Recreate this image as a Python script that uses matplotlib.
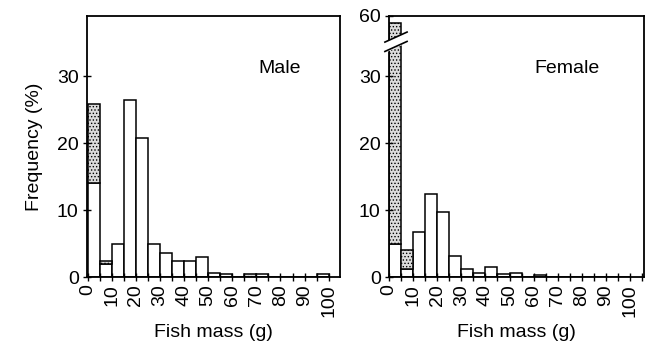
import matplotlib.pyplot as plt
import numpy as np

plt.rcParams['font.family'] = ['Liberation Sans', 'DejaVu Sans']
plt.rcParams['hatch.linewidth'] = 0.6

# 5 g bins, left edges 0..95
bin_left = np.arange(0, 100, 5)

# open part / stippled part of each bar (%)
male_open = [14.0, 1.9, 5.0, 26.4, 20.8, 5.0, 3.6, 2.4, 2.4, 3.0,
             0.6, 0.5, 0, 0, 0.4, 0, 0, 0, 0, 0.5]
male_dot = [11.8, 0.5, 0, 0, 0, 0, 0, 0, 0, 0,
            0, 0, 0, 0.5, 0, 0, 0, 0, 0, 0]
female_open = [4.9, 1.2, 6.7, 12.4, 9.7, 3.15, 1.15, 0.65, 1.55, 0.4,
               0.65, 0, 0.25, 0, 0, 0, 0, 0, 0, 0]
female_dot = [54.1, 2.9, 0, 0, 0, 0, 0, 0, 0, 0,
              0, 0, 0, 0, 0, 0, 0, 0, 0, 0]

xticks = list(range(0, 101, 10))

# broken y axis for female: 35..56 removed
brk_lo, brk_hi = 35, 56


def squash(v):
    v = np.asarray(v, dtype=float)
    return np.where(v > brk_hi, v - (brk_hi - brk_lo), np.minimum(v, brk_lo + 0.5))


fig = plt.figure(figsize=(6.53, 3.52), dpi=100)
ax1 = fig.add_axes([87 / 653, 75 / 352, 253 / 653, 261 / 352])
ax2 = fig.add_axes([389 / 653, 75 / 352, 255 / 653, 261 / 352])


def draw(ax, op, dot, label, lx, broken=False):
    op = np.array(op)
    dot = np.array(dot)
    total = op + dot
    if broken:
        tot_disp = squash(total)
    else:
        tot_disp = total
    dot_h = np.where(dot > 0, tot_disp - op, 0)
    ax.bar(bin_left, op, width=5, align='edge', color='white',
           edgecolor='black', linewidth=1.1)
    mask = dot > 0
    ax.bar(bin_left[mask], dot_h[mask], bottom=op[mask], width=5, align='edge',
           color='#dcdcdc', edgecolor='black', hatch='.....', linewidth=1.1)
    ax.set_ylim(0, 39)
    ax.set_xticks(xticks)
    ax.set_xticklabels([str(t) for t in xticks], rotation=90, fontsize=14)
    ax.set_xticks(np.arange(5, 106, 10), minor=True)
    ax.tick_params(axis='both', which='both', direction='inout', length=6,
                   width=1.0, labelsize=14, pad=2)
    ax.tick_params(axis='y', pad=3)
    ax.set_xlabel('Fish mass (g)', fontsize=14, labelpad=5)
    for s in ax.spines.values():
        s.set_linewidth(1.3)
    ax.text(lx, 0.80, label, transform=ax.transAxes, fontsize=14,
            ha='center', va='center')


draw(ax1, male_open, male_dot, 'Male', 0.763)
ax1.set_xlim(-0.3, 104.7)
ax1.set_yticks([0, 10, 20, 30])
ax1.set_ylabel('Frequency (%)', fontsize=14, labelpad=10)

draw(ax2, female_open, female_dot, 'Female', 0.698, broken=True)
ax2.set_xlim(0, 105.8)
ax2.set_yticks([0, 10, 20, 30, 39])
ax2.set_yticklabels(['0', '10', '20', '30', '60'])

# break marks across the axis and the first bar
bx = np.array([-1.7, 7.5])
ax2.fill_between(bx, [brk_lo - 1.3, brk_lo + 0.2], [brk_lo + 0.1, brk_lo + 1.6],
                 color='white', zorder=5, clip_on=False)
ax2.plot(bx, [brk_lo - 1.3, brk_lo + 0.2], color='black', lw=1.2, zorder=6, clip_on=False)
ax2.plot(bx, [brk_lo + 0.1, brk_lo + 1.6], color='black', lw=1.2, zorder=6, clip_on=False)

fig.savefig('out.png', dpi=100)
